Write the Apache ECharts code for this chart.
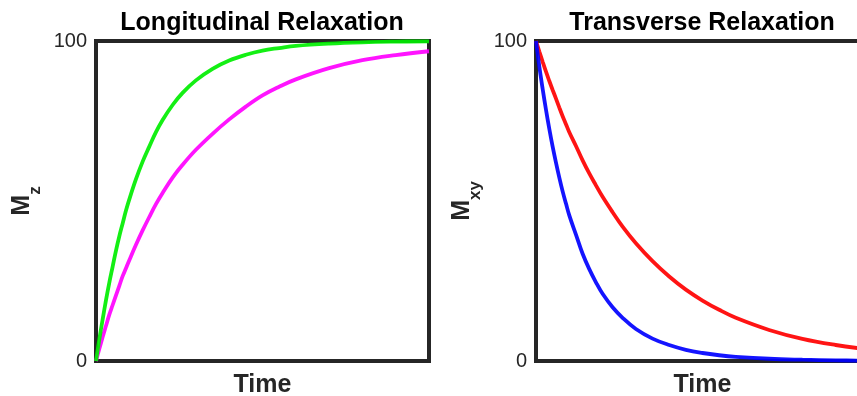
<!DOCTYPE html>
<html>
<head>
<meta charset="utf-8">
<script src="https://cdn.jsdelivr.net/npm/echarts@6/dist/echarts.min.js"></script>
<style>
  html, body { margin: 0; padding: 0; background: #ffffff; }
  #chart { width: 857px; height: 396px; }
</style>
</head>
<body>
<div id="chart"></div>
<script>
// Sample times (arbitrary units, 0..100 spans each panel)
const timePoints = [0, 1, 2, 3, 4, 5, 6, 7, 8, 9, 10, 12, 14, 16, 18, 20, 23, 26, 30, 35, 40, 45, 50, 55, 60, 70, 80, 90, 100];

// Longitudinal recovery Mz (percent), short and long T1
const mzShortT1 = [0, 6.8, 13, 19, 24.5, 29.5, 34.5, 39, 43, 47, 50.5, 56.8, 62.3, 67, 71.5, 75.3, 80, 83.8, 87.7, 91.3, 93.9, 95.7, 97, 97.8, 98.5, 99.2, 99.6, 99.8, 99.9];
const mzLongT1  = [0, 3.8, 7.5, 11, 14.5, 17.5, 20.5, 23.5, 26.5, 29, 31.5, 36.3, 40.8, 45, 49, 52.5, 57.3, 61.3, 66, 71, 75.5, 79.5, 83, 85.7, 88, 91.5, 94, 95.6, 96.8];

// Transverse decay Mxy (percent), short and long T2
const mxyShortT2 = [100, 92, 85, 78.5, 72.5, 67, 62, 57.3, 53, 49.2, 45.5, 39.5, 33.5, 28.7, 24.6, 21, 16.8, 13.5, 10, 7, 5, 3.5, 2.5, 1.8, 1.3, 0.7, 0.4, 0.2, 0.1];
const mxyLongT2  = [100, 96.7, 93.5, 90.4, 87.5, 84.7, 82, 79.2, 76.5, 74, 71.5, 67.2, 62.7, 58.6, 54.9, 51.3, 46.5, 42, 36.8, 31.2, 26.4, 22.3, 18.9, 16, 13.5, 9.7, 6.9, 5, 3.6];

const yTicks = [0, 100];
const panelTitles = ['Longitudinal Relaxation', 'Transverse Relaxation'];
const xName = 'Time';

const FONT = '"Liberation Sans", Arial, Helvetica, sans-serif';
const INK = '#262626';

const pairs = (vals) => timePoints.map((t, i) => [t, vals[i]]);

const chart = echarts.init(document.getElementById('chart'), null, { renderer: 'canvas' });

// Both panels share the same box size; the right one runs past the canvas edge
const gridBase = {
  top: 41, width: 333, height: 320, show: true, borderWidth: 4, borderColor: INK,
  backgroundColor: '#ffffff', containLabel: false, outerBoundsMode: 'none'
};

function xAxisFor(gi) {
  return {
    gridIndex: gi, type: 'value', min: 0, max: 100,
    axisLine: { show: false }, axisTick: { show: false }, axisLabel: { show: false }, splitLine: { show: false },
    name: xName, nameLocation: 'middle', nameGap: 12,
    nameTextStyle: { fontFamily: FONT, fontSize: 25, fontWeight: 'bold', color: INK, verticalAlign: 'top' }
  };
}

function yAxisFor(gi, sub) {
  return {
    gridIndex: gi, type: 'value', min: yTicks[0], max: yTicks[1], interval: 100,
    axisLine: { show: false }, axisTick: { show: false }, splitLine: { show: false },
    axisLabel: { fontFamily: FONT, fontSize: 20, color: INK, margin: 9 },
    name: '{m|M}{s|' + sub + '}', nameLocation: 'middle', nameRotate: 90, nameGap: 52,
    nameTextStyle: {
      rich: {
        m: { fontFamily: FONT, fontSize: 25, fontWeight: 'bold', color: INK, lineHeight: 34, verticalAlign: 'top' },
        s: { fontFamily: FONT, fontSize: 17, fontWeight: 'bold', color: INK, lineHeight: 34, verticalAlign: 'bottom' }
      }
    }
  };
}

function curve(gi, data, color) {
  return {
    type: 'line', xAxisIndex: gi, yAxisIndex: gi, data: pairs(data),
    smooth: 0.4, showSymbol: false, clip: false,
    lineStyle: { color: color, width: 3.8, opacity: 0.92 }, z: 5
  };
}

chart.setOption({
  animation: false,
  backgroundColor: '#ffffff',
  title: [
    { text: panelTitles[0], left: 262, top: 11, textAlign: 'center', padding: 0,
      textStyle: { fontFamily: FONT, fontSize: 25, fontWeight: 'bold', color: '#000' } },
    { text: panelTitles[1], left: 702, top: 11, textAlign: 'center', padding: 0,
      textStyle: { fontFamily: FONT, fontSize: 25, fontWeight: 'bold', color: '#000' } }
  ],
  grid: [
    Object.assign({ left: 96 }, gridBase),
    Object.assign({ left: 536 }, gridBase)
  ],
  xAxis: [xAxisFor(0), xAxisFor(1)],
  yAxis: [yAxisFor(0, 'z'), yAxisFor(1, 'xy')],
  series: [
    curve(0, mzLongT1, '#ff00ff'),
    curve(0, mzShortT1, '#00ee00'),
    curve(1, mxyLongT2, '#ff0000'),
    curve(1, mxyShortT2, '#0000ff')
  ]
});
</script>
</body>
</html>
